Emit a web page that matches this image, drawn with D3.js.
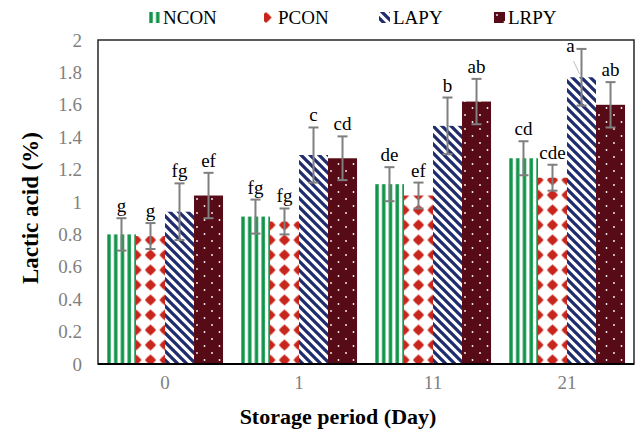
<!DOCTYPE html>
<html><head><meta charset="utf-8">
<script src="https://cdn.jsdelivr.net/npm/d3@7"></script>
<style>html,body{margin:0;padding:0;background:#fff;} svg{display:block;}</style>
</head><body>
<svg id="chart" width="636" height="435"></svg>
<script>
// ---- data ----
const days = ["0", "1", "11", "21"];
const seriesNames = ["NCON", "PCON", "LAPY", "LRPY"];
const NCON = [0.80, 0.91, 1.11, 1.27];
const PCON = [0.79, 0.88, 1.04, 1.15];
const LAPY = [0.94, 1.29, 1.47, 1.77];
const LRPY = [1.04, 1.27, 1.62, 1.60];
const NCON_err = [0.10, 0.105, 0.105, 0.105];
const PCON_err = [0.08, 0.08, 0.08, 0.08];
const LAPY_err = [0.175, 0.17, 0.175, 0.175];
const LRPY_err = [0.14, 0.135, 0.14, 0.14];
const NCON_lab = ["g", "fg", "de", "cd"];
const PCON_lab = ["g", "fg", "ef", "cde"];
const LAPY_lab = ["fg", "c", "b", "a"];
const LRPY_lab = ["ef", "cd", "ab", "ab"];
const yTicks = [0, 0.2, 0.4, 0.6, 0.8, 1, 1.2, 1.4, 1.6, 1.8, 2];
const yTickLabels = ["0", "0.2", "0.4", "0.6", "0.8", "1", "1.2", "1.4", "1.6", "1.8", "2"];

const values = { NCON, PCON, LAPY, LRPY };
const errs = { NCON: NCON_err, PCON: PCON_err, LAPY: LAPY_err, LRPY: LRPY_err };
const labs = { NCON: NCON_lab, PCON: PCON_lab, LAPY: LAPY_lab, LRPY: LRPY_lab };
const colors = { NCON: "#0f9548", PCON: "#c8251c", LAPY: "#1f2d6e", LRPY: "#570b16" };
const labelNudge = { "LAPY-21": [-11, 9] };

const FONT = "'Liberation Serif','Times New Roman',serif";
const svg = d3.select("#chart");
const M = { left: 98, right: 634, top: 40, bottom: 364 };

const x0 = d3.scaleBand().domain(days).range([M.left, M.right]).paddingInner(0.134).paddingOuter(0.067);
const x1 = d3.scaleBand().domain(seriesNames).range([0, x0.bandwidth()]);
const y = d3.scaleLinear().domain([0, 2]).range([M.bottom, M.top]);

const defs = svg.append("defs");

function makePattern(id, name, ox, oy) {
  const c = colors[name];
  let p;
  if (name === "NCON") {
    p = defs.append("pattern").attr("id", id).attr("patternUnits", "userSpaceOnUse")
      .attr("x", ox).attr("y", 0).attr("width", 6.75).attr("height", 10);
    p.append("rect").attr("width", 6.75).attr("height", 10).attr("fill", "#fff");
    p.append("rect").attr("x", 0.3).attr("width", 3.4).attr("height", 10).attr("fill", c);
  } else if (name === "PCON") {
    p = defs.append("pattern").attr("id", id).attr("patternUnits", "userSpaceOnUse")
      .attr("x", ox).attr("y", oy).attr("width", 14.5).attr("height", 15);
    p.append("rect").attr("width", 14.5).attr("height", 15).attr("fill", "#fff");
    const cx = 7.25, cy = 7.5, r = 5.6, q = 2.9;
    p.append("path").attr("fill", c)
      .attr("d", `M${cx},${cy - r} L${cx + q},${cy - q} L${cx + r},${cy} L${cx + q},${cy + q} L${cx},${cy + r} L${cx - q},${cy + q} L${cx - r},${cy} L${cx - q},${cy - q}Z`);
  } else if (name === "LAPY") {
    const s = 9;
    p = defs.append("pattern").attr("id", id).attr("patternUnits", "userSpaceOnUse")
      .attr("x", ox).attr("y", 0).attr("width", s).attr("height", s);
    p.append("rect").attr("width", s).attr("height", s).attr("fill", "#fff");
    p.append("path").attr("stroke", c).attr("stroke-width", 3.3)
      .attr("d", `M-2,-2 L${s + 2},${s + 2} M${-2 - s},-2 L2,${s + 2} M${s - 2},-2 L${2 * s + 2},${s + 2}`);
  } else {
    p = defs.append("pattern").attr("id", id).attr("patternUnits", "userSpaceOnUse")
      .attr("x", ox).attr("y", oy).attr("width", 15).attr("height", 14);
    p.append("rect").attr("width", 15).attr("height", 14).attr("fill", c);
    p.append("circle").attr("cx", 3).attr("cy", 3).attr("r", 0.9).attr("fill", "#fff");
    p.append("circle").attr("cx", 10.5).attr("cy", 10).attr("r", 0.9).attr("fill", "#fff");
  }
  return `url(#${id})`;
}

// plot border
svg.append("rect").attr("x", M.left).attr("y", M.top)
  .attr("width", M.right - M.left).attr("height", M.bottom - M.top)
  .attr("fill", "none").attr("stroke", "#262626").attr("stroke-width", 1.5);

// bars
const g = svg.append("g");
days.forEach((d, i) => {
  seriesNames.forEach(name => {
    const v = values[name][i];
    const bx = x0(d) + x1(name);
    const bw = x1.bandwidth();
    let ox = bx, oy = 0;
    if (name === "PCON") { ox = bx + bw / 2 - 7.25; oy = M.bottom - 4 - 7.5; }
    if (name === "LRPY") { oy = M.bottom; }
    const fill = makePattern(`pat-${name}-${i}`, name, ox, oy);
    g.append("rect").attr("x", bx).attr("y", y(v)).attr("width", bw)
      .attr("height", y(0) - y(v)).attr("fill", fill);
  });
});

// error bars
days.forEach((d, i) => {
  seriesNames.forEach(name => {
    const v = values[name][i], e = errs[name][i];
    const cx = x0(d) + x1(name) + x1.bandwidth() / 2;
    const eg = g.append("g").attr("stroke", "#7f7f7f").attr("stroke-width", 2);
    eg.append("line").attr("x1", cx).attr("x2", cx).attr("y1", y(v + e)).attr("y2", y(v - e));
    eg.append("line").attr("x1", cx - 5).attr("x2", cx + 5).attr("y1", y(v + e)).attr("y2", y(v + e));
    eg.append("line").attr("x1", cx - 5).attr("x2", cx + 5).attr("y1", y(v - e)).attr("y2", y(v - e));
  });
});

// labels
days.forEach((d, i) => {
  seriesNames.forEach(name => {
    const v = values[name][i], e = errs[name][i];
    const cx = x0(d) + x1(name) + x1.bandwidth() / 2;
    const nudge = labelNudge[`${name}-${d}`] || [0, 0];
    if (nudge[0] !== 0) {
      g.append("line").attr("x1", cx + nudge[0] + 3).attr("y1", y(v + e) + nudge[1] + 3)
        .attr("x2", cx - 2).attr("y2", y(v + e) + nudge[1] + 16)
        .attr("stroke", "#bfbfbf").attr("stroke-width", 1);
    }
    g.append("text").attr("x", cx + nudge[0]).attr("y", y(v + e) - 6 + nudge[1])
      .attr("text-anchor", "middle").attr("font-family", FONT).attr("font-size", 19)
      .attr("fill", "#000").text(labs[name][i]);
  });
});

// bottom axis line
svg.append("line").attr("x1", M.left).attr("x2", M.right).attr("y1", M.bottom).attr("y2", M.bottom)
  .attr("stroke", "#000").attr("stroke-width", 2);

// y tick labels
const yAxis = d3.axisLeft(y).tickValues(yTicks).tickSize(0).tickPadding(0)
  .tickFormat((t, i) => yTickLabels[i]);
const ya = svg.append("g").attr("transform", `translate(${M.left - 16},0)`).call(yAxis);
ya.select(".domain").remove();
ya.selectAll("text").attr("font-family", FONT).attr("font-size", 19).attr("fill", "#808080");

// x tick labels
const xAxis = d3.axisBottom(x0).tickSize(0).tickPadding(0);
const xa = svg.append("g").attr("transform", `translate(0,${M.bottom + 11})`).call(xAxis);
xa.select(".domain").remove();
xa.selectAll("text").attr("font-family", FONT).attr("font-size", 19).attr("fill", "#808080");

// axis titles
svg.append("text").attr("x", 338).attr("y", 424).attr("text-anchor", "middle")
  .attr("font-family", FONT).attr("font-size", 22).attr("font-weight", "bold").text("Storage period (Day)");
svg.append("text").attr("transform", "translate(38,208) rotate(-90)").attr("text-anchor", "middle")
  .attr("font-family", FONT).attr("font-size", 23).attr("font-weight", "bold").text("Lactic acid (%)");

// legend
const legX = [149, 264, 379, 494];
seriesNames.forEach((name, i) => {
  const lx = legX[i], ly = 12;
  let ox = lx, oy = ly;
  if (name === "PCON") { ox = lx - 7.25 + 2; oy = ly - 2; }
  const fill = makePattern(`leg-${name}`, name, ox, oy);
  svg.append("rect").attr("x", lx).attr("y", ly).attr("width", 11).attr("height", 11).attr("fill", fill);
  svg.append("text").attr("x", lx + 14).attr("y", 24).attr("font-family", FONT).attr("font-size", 19)
    .attr("fill", "#000").text(name);
});
</script>
</body></html>
